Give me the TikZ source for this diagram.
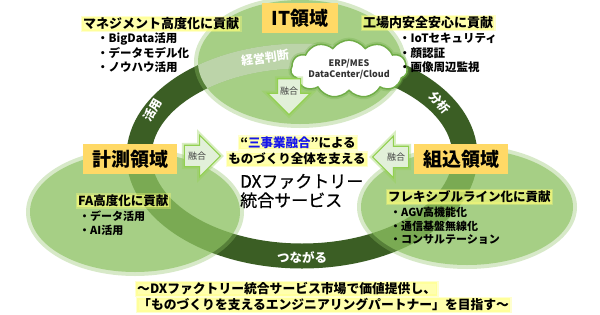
\documentclass[tikz,border=0pt]{standalone}
\usepackage{fontspec}
\setmainfont{Noto Sans CJK JP}
\newfontfamily\dxfont{Noto Sans CJK JP}[FakeBold=0.6]
\usetikzlibrary{shapes.arrows,shapes.symbols}
\definecolor{ringg}{RGB}{59,94,36}
\definecolor{ellg}{RGB}{141,194,98}
\definecolor{boxy}{RGB}{255,217,102}
\definecolor{arrf}{RGB}{226,240,217}
\definecolor{arrb}{RGB}{146,208,80}
\definecolor{cloudb}{RGB}{112,173,71}
\definecolor{glowy}{RGB}{255,255,120}
\definecolor{fuseblue}{RGB}{20,20,235}
\tikzset{
  areabox/.style={fill=boxy, minimum width=#1, minimum height=30pt, inner sep=2pt, font=\fontsize{19}{22}\selectfont\bfseries},
  zonehalo/.style={fill=ellg, fill opacity=0.35},
  zone/.style={fill=ellg, fill opacity=0.65},
  fusearrow/.style={single arrow, draw=arrb, line width=1.2pt, fill=arrf, single arrow head extend=10pt, minimum height=36pt, inner xsep=2pt, inner ysep=6pt, font=\fontsize{9}{10}\selectfont, text=black!75, preaction={draw=arrb, draw opacity=0.35, line width=5pt}},
  glowband/.style={inner xsep=1pt, inner ysep=0.5pt, preaction={fill=glowy, fill opacity=0.6, draw=glowy, draw opacity=0.35, line width=3pt, rounded corners=3pt}},
  heading/.style={glowband, font=\fontsize{13}{15}\selectfont\bfseries},
  listtxt/.style={font=\fontsize{11.5}{14.5}\selectfont\bfseries, align=left, inner sep=0pt},
  ringlbl/.style={text=white, font=\fontsize{12}{14}\selectfont\bfseries, inner sep=0pt}
}
\begin{document}
\begin{tikzpicture}[x=1pt,y=-1pt]
\useasboundingbox (0,0) rectangle (600,314);
\fill[white] (0,0) rectangle (600,314);
% ring
\draw[ringg, line width=25pt] (302,156) ellipse [x radius=163pt, y radius=100pt];
% zones
\fill[zonehalo] (300,62) ellipse [x radius=106pt, y radius=66pt];
\fill[zone] (300,62) ellipse [x radius=102pt, y radius=62pt];
\fill[zonehalo] (135,212) ellipse [x radius=109pt, y radius=64pt];
\fill[zone] (135,212) ellipse [x radius=105pt, y radius=60pt];
\fill[zonehalo] (467,207) ellipse [x radius=110pt, y radius=62pt];
\fill[zone] (467,207) ellipse [x radius=106pt, y radius=58pt];
\begin{scope}
\clip (300,62) ellipse [x radius=102pt, y radius=62pt];
\draw[white, opacity=0.5, line width=25pt] (302,156) ellipse [x radius=163pt, y radius=100pt];
\end{scope}
% ring labels
\node[ringlbl, rotate=8] (keiei) at (265,58) {経営判断};
\node[ringlbl, rotate=60] (katsuyo) at (153,110) {活用};
\node[ringlbl, rotate=-50] (bunseki) at (440,103) {分析};
\node[ringlbl, font=\fontsize{12.5}{15}\selectfont\bfseries] (tsunagaru) at (302,257) {つながる};
% area boxes
\node[areabox=76pt] (itbox) at (300,18) {IT領域};
\node[areabox=94pt] (keisoku) at (130,159) {計測領域};
\node[areabox=94pt] (kumikomi) at (461,159) {組込領域};
% cloud
\node[cloud, cloud puffs=11, cloud puff arc=110, aspect=2.7, draw=cloudb, line width=1.5pt, fill=white, preaction={draw=cloudb, draw opacity=0.3, line width=5pt}, align=center, font=\fontsize{9}{11.5}\selectfont\bfseries, text=black!80, inner sep=0pt, minimum width=98pt, minimum height=36pt] (cloud) at (349,69) {ERP/MES\\DataCenter/Cloud};
% fusion arrows
\node[fusearrow, shape border rotate=270] (fuseit) at (289,91) {融合};
\node[fusearrow] (fusekei) at (197,156) {融合};
\node[fusearrow, shape border rotate=180] (fusekumi) at (396,157) {融合};
% headings and lists
\node[heading, anchor=west] (mgmt) at (82,24) {マネジメント高度化に貢献};
\node[listtxt, anchor=west] (mgmtlist) at (97,53) {・BigData活用\\・データモデル化\\・ノウハウ活用};
\node[heading, anchor=west] (safe) at (362,23) {工場内安全安心に貢献};
\node[listtxt, anchor=west] (safelist) at (399,53) {・IoTセキュリティ\\・顔認証\\・画像周辺監視};
\node[heading, font=\fontsize{12.5}{15}\selectfont\bfseries, anchor=west] (fa) at (77,201) {FA高度化に貢献};
\node[listtxt, font=\fontsize{11}{14.5}\selectfont\bfseries, anchor=west] (falist) at (79,223) {・データ活用\\・AI活用};
\node[heading, font=\fontsize{12.5}{15}\selectfont\bfseries, anchor=west] (flex) at (387,197) {フレキシブルライン化に貢献};
\node[listtxt, font=\fontsize{11}{13.5}\selectfont\bfseries, anchor=west] (flexlist) at (390,226) {・AGV高機能化\\・通信基盤無線化\\・コンサルテーション};
% centre
\node[glowband, font=\fontsize{12.5}{15}\selectfont\bfseries] (fuse1) at (298,143) {“\textcolor{fuseblue}{三事業融合}”による};
\node[glowband, font=\fontsize{12.5}{15}\selectfont\bfseries] (fuse2) at (297,159) {ものづくり全体を支える};
\node[align=left, inner sep=0pt, anchor=west, font=\fontsize{17}{19}\dxfont] (dx) at (240,191) {DXファクトリー\\統合サービス};
% bottom
\node[glowband, anchor=west, font=\fontsize{12.8}{15}\selectfont\bfseries] (bottom1) at (136,289) {～DXファクトリー統合サービス市場で価値提供し、};
\node[glowband, anchor=west, font=\fontsize{12.8}{15}\selectfont\bfseries] (bottom2) at (137,305) {「ものづくりを支えるエンジニアリングパートナー」を目指す～};
\end{tikzpicture}
\end{document}
